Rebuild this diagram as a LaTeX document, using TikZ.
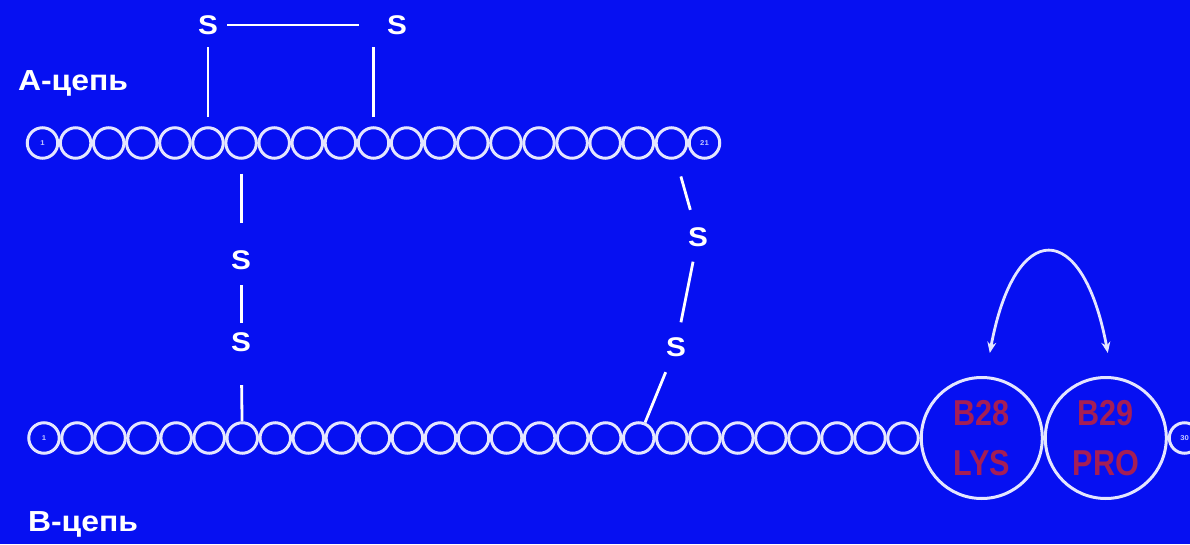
\documentclass[tikz,border=0pt]{standalone}
\usepackage{fontspec}
\setmainfont{Liberation Sans}
\newfontfamily\labfont{Liberation Sans}[FakeStretch=1.1]
\newfontfamily\tagfont{Liberation Sans}[FakeStretch=0.85]
\usetikzlibrary{arrows.meta,positioning}
\definecolor{bgblue}{RGB}{6,16,242}
\definecolor{ring}{RGB}{228,230,255}
\definecolor{lysred}{RGB}{165,30,85}
\definecolor{numcol}{RGB}{195,200,255}
\tikzset{
  bead/.style={circle,draw=ring,line width=3pt,minimum size=30.5pt,inner sep=0pt,
               font=\labfont\bfseries\fontsize{7}{7}\selectfont,text=numcol},
  big/.style={circle,draw=ring,line width=3pt,minimum size=121pt,inner sep=0pt,
              align=center,text=lysred,font=\tagfont\bfseries\fontsize{36}{50}\selectfont},
  sul/.style={circle,inner sep=0pt,minimum size=28pt,text=white,
              font=\labfont\bfseries\fontsize{27}{27}\selectfont},
  chain/.style={text=white,font=\labfont\bfseries\fontsize{29}{29}\selectfont},
  bond/.style={draw=white,line width=2.8pt},
  hop/.style={{Stealth[length=11pt,width=9pt]}-{Stealth[length=11pt,width=9pt]},
              draw=ring,line width=2.8pt},
}
\begin{document}
\begin{tikzpicture}[x=1pt,y=1pt]
  \useasboundingbox (0,0) rectangle (1190,544);
  \fill[bgblue] (0,0) rectangle (1190,544);
  % A chain
  \node[bead] (A1) at (42.5,401) {1};
  \foreach \i in {2,...,20}
    \node[bead] (A\i) at ({42.5+33.1*(\i-1)},401) {};
  \node[bead] (A21) at ({42.5+33.1*20},401) {21};
  % B chain
  \node[bead] (B1) at (44,106) {1};
  \foreach \i in {2,...,27}
    \node[bead] (B\i) at ({44+33.04*(\i-1)},106) {};
  \node[big,right=0pt of B27] (B28) {B28\\LYS};
  \node[big,right=0pt of B28] (B29) {B29\\PRO};
  \node[bead,right=0pt of B29] (B30) {30};
  \node[chain] (lA) at (73,461) {А-цепь};
  \node[chain] (lB) at (83,20) {В-цепь};
  % A6--A11
  \node[sul] (sL) at (A6 |- 0,519) {S};
  \node[sul] (sR) at (397,519) {S};
  \coordinate (kA) at (A11 |- sL);
  \draw[bond,shorten <=9pt,shorten >=8pt] (A6) -- (sL);
  \draw[bond,shorten <=9pt,shorten >=22pt] (A11) -- (kA);
  \draw[bond,shorten <=5pt,shorten >=15pt] (sL) -- (kA);
  % A7--B7
  \node[sul] (s1) at (A7 |- 0,284) {S};
  \node[sul] (s2) at (A7 |- 0,202) {S};
  \draw[bond,shorten <=14pt,shorten >=23pt] (A7) -- (s1);
  \draw[bond,shorten <=11pt,shorten >=5pt] (s1) -- (s2);
  \draw[bond,shorten <=29pt] (s2) -- (B7);
  % A20--B19
  \node[sul] (t1) at (698,307) {S};
  \node[sul] (t2) at (676,197) {S};
  \draw[bond,shorten <=18pt,shorten >=14pt] (A20) -- (t1);
  \draw[bond,shorten <=11pt,shorten >=11pt] (t1) -- (t2);
  \draw[bond,shorten <=13pt] (t2) -- (B19);
  % B28 <-> B29
  \draw[hop] ([shift={(8pt,23pt)}]B28.north) .. controls +(25,135) and +(-25,135)
    .. ([shift={(2pt,23pt)}]B29.north);
\end{tikzpicture}
\end{document}
